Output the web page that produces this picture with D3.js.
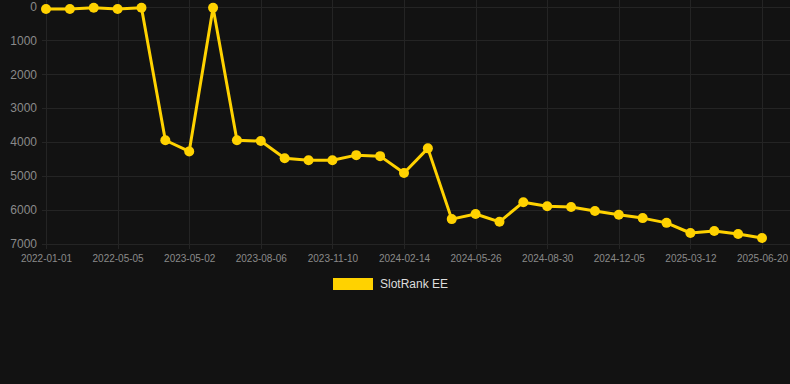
<!DOCTYPE html>
<html>
<head>
<meta charset="utf-8">
<script src="https://cdn.jsdelivr.net/npm/d3@7"></script>
<style>
  html, body { margin: 0; padding: 0; background: #121212; }
  svg { display: block; font-family: "Liberation Sans", Arial, sans-serif; }
</style>
</head>
<body>
<svg id="chart" width="790" height="384"></svg>
<script>
// dates on the x axis (only every third one is labelled)
const dates = [
    "2022-01-01", "2022-02-12", "2022-03-24", "2022-05-05", "2022-09-03", "2023-01-01",
    "2023-05-02", "2023-06-04", "2023-07-05", "2023-08-06", "2023-09-07", "2023-10-09",
    "2023-11-10", "2023-12-12", "2024-01-13", "2024-02-14", "2024-03-19", "2024-04-22",
    "2024-05-26", "2024-06-26", "2024-07-28", "2024-08-30", "2024-10-01", "2024-11-03",
    "2024-12-05", "2025-01-06", "2025-02-08", "2025-03-12", "2025-04-14", "2025-05-17",
    "2025-06-20"
]
// rank values (lower is better, axis reversed)
const ranks = [
    75, 75, 35, 75, 35, 3950,
    4280, 35, 3950, 3975, 4480, 4540,
    4540, 4390, 4420, 4920, 4190, 6280,
    6130, 6360, 5780, 5900, 5920, 6040,
    6150, 6250, 6390, 6690, 6630, 6720,
    6840
]
const yTicks = [0, 1000, 2000, 3000, 4000, 5000, 6000, 7000]
const seriesName = "SlotRank EE"

const svg = d3.select("#chart")
const lineColor = "#ffd200"
const gridColor = "#242424"
const textColor = "#8a8a8a"

const x = d3.scalePoint()
    .domain(dates)
    .range([46, 762])

const y = d3.scaleLinear()
    .domain([0, 7000])
    .range([6.5, 243.5])

// horizontal grid
const grid = svg.append("g").attr("class", "grid")
grid.selectAll("line.h")
    .data(yTicks)
    .enter().append("line")
    .attr("class", "h")
    .attr("x1", 42).attr("x2", 790)
    .attr("y1", d => Math.round(y(d)) + 0.5)
    .attr("y2", d => Math.round(y(d)) + 0.5)
    .attr("stroke", gridColor)
    .attr("stroke-width", 1)

// vertical grid at labelled dates
const labelled = dates.filter((d, i) => i % 3 === 0)
grid.selectAll("line.v")
    .data(labelled)
    .enter().append("line")
    .attr("class", "v")
    .attr("x1", d => Math.round(x(d)) + 0.5)
    .attr("x2", d => Math.round(x(d)) + 0.5)
    .attr("y1", 0).attr("y2", 249)
    .attr("stroke", gridColor)
    .attr("stroke-width", 1)

// y axis labels
const yAxis = svg.append("g")
    .attr("transform", "translate(42,0)")
    .call(d3.axisLeft(y).tickValues(yTicks).tickSize(0).tickPadding(5).tickFormat(d3.format("d")))
yAxis.select(".domain").remove()
yAxis.selectAll("text")
    .attr("fill", textColor)
    .style("font-size", "12px")

// x axis labels
const xAxis = svg.append("g")
    .attr("transform", "translate(0,251)")
    .call(d3.axisBottom(x).tickValues(labelled).tickSize(0).tickPadding(4))
xAxis.select(".domain").remove()
xAxis.selectAll("text")
    .attr("fill", textColor)
    .style("font-size", "10px")

// line
const line = d3.line()
    .x((d, i) => x(dates[i]))
    .y(d => y(d))

svg.append("path")
    .datum(ranks)
    .attr("fill", "none")
    .attr("stroke", lineColor)
    .attr("stroke-width", 3)
    .attr("stroke-linejoin", "round")
    .attr("d", line)

svg.append("g")
    .selectAll("circle")
    .data(ranks)
    .enter().append("circle")
    .attr("cx", (d, i) => x(dates[i]))
    .attr("cy", d => y(d))
    .attr("r", 5)
    .attr("fill", lineColor)

// legend
const legend = svg.append("g").attr("transform", "translate(333,278)")
legend.append("rect")
    .attr("width", 40).attr("height", 12)
    .attr("fill", lineColor)
legend.append("text")
    .attr("x", 47).attr("y", 6)
    .attr("dy", "0.35em")
    .attr("fill", "#dddddd")
    .style("font-size", "12px")
    .text(seriesName)
</script>
</body>
</html>
